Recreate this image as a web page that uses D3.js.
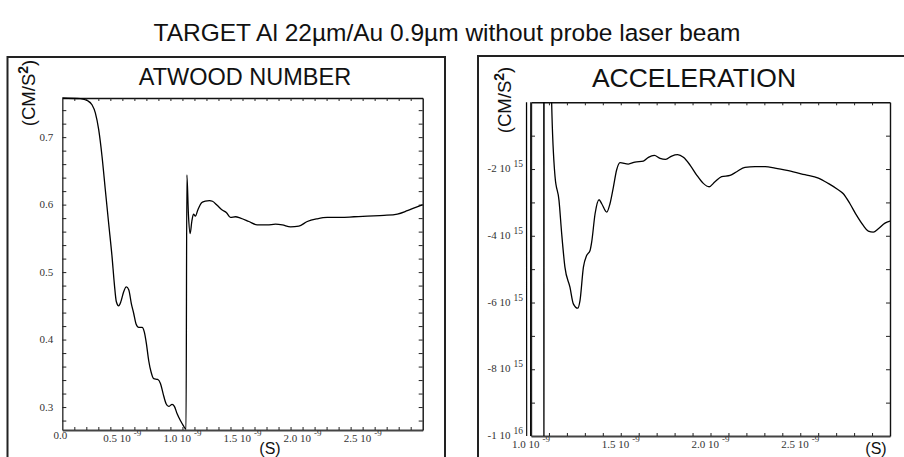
<!DOCTYPE html>
<html>
<head>
<meta charset="utf-8">
<script src="https://cdn.jsdelivr.net/npm/d3@7"></script>
<style>
body { margin: 0; background: #fff; }
svg { display: block; }
.tick-label { font-family: "Liberation Serif", serif; font-size: 11px; fill: #333; }
.big-label { font-family: "Liberation Sans", Arial, sans-serif; fill: #111; }
</style>
</head>
<body>
<div class="chart"></div>
<script>
// time in ns
var atwoodTime = [0, 0.15, 0.211, 0.247, 0.275, 0.303, 0.331, 0.358, 0.386, 0.414,
	0.433, 0.45, 0.469, 0.489, 0.511, 0.533, 0.553, 0.575, 0.594, 0.614,
	0.636, 0.664, 0.683, 0.7, 0.719, 0.739, 0.761, 0.794, 0.817, 0.839,
	0.864, 0.886, 0.914, 0.933, 0.956, 0.983, 1.006, 1.030, 1.037, 1.050,
	1.064, 1.078, 1.092, 1.108, 1.128, 1.162, 1.190, 1.225, 1.250, 1.289,
	1.331, 1.367, 1.4, 1.442, 1.483, 1.553, 1.622, 1.706, 1.775, 1.831,
	1.9, 1.969, 2.039, 2.122, 2.206, 2.317, 2.428, 2.539, 2.678, 2.789,
	2.872, 2.942, 3.0];
var atwoodValue = [0.758, 0.757, 0.754, 0.748, 0.736, 0.711, 0.671, 0.622, 0.572, 0.523,
	0.483, 0.456, 0.45, 0.457, 0.471, 0.478, 0.474, 0.453, 0.439, 0.423,
	0.418, 0.418, 0.411, 0.394, 0.369, 0.352, 0.342, 0.341, 0.335, 0.32,
	0.305, 0.301, 0.304, 0.301, 0.29, 0.28, 0.273, 0.267, 0.644, 0.585,
	0.557, 0.575, 0.586, 0.583, 0.592, 0.603, 0.605, 0.606, 0.605, 0.599,
	0.592, 0.588, 0.581, 0.582, 0.58, 0.575, 0.57, 0.57, 0.571, 0.57,
	0.567, 0.568, 0.575, 0.579, 0.581, 0.581, 0.582, 0.583, 0.584, 0.586,
	0.591, 0.596, 0.6];

// acceleration in 10^15 cm/s^2
var accelTime = [0.975, 0.976, 0.998, 0.999, 1.071, 1.072, 1.073, 1.110, 1.115,
	1.134, 1.156, 1.171, 1.189, 1.217, 1.236, 1.260,
	1.273, 1.292, 1.310, 1.329, 1.338, 1.357, 1.379, 1.394, 1.422, 1.440,
	1.459, 1.477, 1.496, 1.542, 1.579, 1.626, 1.654, 1.687, 1.719, 1.750,
	1.784, 1.817, 1.849, 1.886, 1.923, 1.960, 1.992, 2.025, 2.062, 2.109,
	2.146, 2.192, 2.248, 2.304, 2.359, 2.434, 2.526, 2.601, 2.656, 2.703,
	2.740, 2.777, 2.814, 2.851, 2.879, 2.907, 2.935, 2.972, 3.000];
var accelValue = [3, -14, -14, 3, 3, -14, 3, 1.5, 0,
	-2.23, -2.94, -3.94, -4.94, -5.54, -6.04, -6.17,
	-5.94, -4.94, -4.59, -4.44, -4.19, -3.34, -2.92, -3.04, -3.29, -3.04,
	-2.54, -2.03, -1.81, -1.85, -1.79, -1.76, -1.65, -1.59, -1.68, -1.71,
	-1.61, -1.57, -1.65, -1.88, -2.18, -2.43, -2.53, -2.38, -2.23, -2.19,
	-2.08, -1.95, -1.93, -1.93, -1.97, -2.05, -2.17, -2.27, -2.43, -2.59,
	-2.74, -3.04, -3.39, -3.69, -3.86, -3.89, -3.79, -3.62, -3.56];

var atwoodXTicks = [0.5, 1.0, 1.5, 2.0, 2.5];
var atwoodYTicks = [0.3, 0.4, 0.5, 0.6, 0.7];
var accelXTicks = [1.0, 1.5, 2.0, 2.5];
var accelYTicks = [-2, -4, -6, -8, -10];
var accelYLabels = [["-2 10", "15"], ["-4 10", "15"], ["-6 10", "15"], ["-8 10", "15"], ["-1 10", "16"]];

var svg = d3.select(".chart").append("svg")
	.attr("width", 904)
	.attr("height", 457);

svg.append("text")
	.attr("class", "big-label")
	.attr("x", 447)
	.attr("y", 41)
	.attr("text-anchor", "middle")
	.style("font-size", "24.5px")
	.text("TARGET Al 22\u00b5m/Au 0.9\u00b5m without probe laser beam");

// panel frames
svg.append("rect").attr("x", 7.5).attr("y", 57).attr("width", 437.5).attr("height", 420)
	.attr("fill", "none").attr("stroke", "#222").attr("stroke-width", 2);
svg.append("rect").attr("x", 478).attr("y", 56).attr("width", 440).attr("height", 420)
	.attr("fill", "none").attr("stroke", "#222").attr("stroke-width", 2);

function drawBox(g, x, y, xMinor, yMinor) {
	var w = x.range()[1] - x.range()[0];
	var h = y.range()[0] - y.range()[1];
	var bottom = g.append("g").attr("transform", "translate(0," + h + ")")
		.call(d3.axisBottom(x).tickValues(xMinor).tickSize(-3).tickSizeOuter(0).tickFormat(""));
	var top = g.append("g")
		.call(d3.axisTop(x).tickValues(xMinor).tickSize(-3).tickSizeOuter(0).tickFormat(""));
	var left = g.append("g")
		.call(d3.axisLeft(y).tickValues(yMinor).tickSize(-4).tickSizeOuter(0).tickFormat(""));
	var right = g.append("g").attr("transform", "translate(" + w + ",0)")
		.call(d3.axisRight(y).tickValues(yMinor).tickSize(-4).tickSizeOuter(0).tickFormat(""));
	g.selectAll(".tick line").attr("stroke", "#222");
	bottom.select(".domain").attr("stroke", "#444").attr("stroke-width", 2.2);
	left.select(".domain").attr("stroke", "#333").attr("stroke-width", 1.4);
	top.select(".domain").attr("stroke", "#111").attr("stroke-width", 1.4);
	right.select(".domain").attr("stroke", "#111").attr("stroke-width", 1.4);
}

function xLabels(g, x, ticks, h) {
	var t = g.selectAll(".xl").data(ticks).enter().append("text")
		.attr("class", "tick-label")
		.attr("x", function(d) { return x(d) - 19; })
		.attr("y", h + 12);
	t.append("tspan").text(function(d) { return d.toFixed(1) + " 10"; });
	t.append("tspan").attr("dx", 3).attr("dy", -6).style("font-size", "9px").text("-9");
}

function rotatedUnit(g, x, y) {
	var t = g.append("text")
		.attr("class", "big-label")
		.attr("transform", "translate(" + x + "," + y + ") rotate(-90)")
		.attr("text-anchor", "middle")
		.style("font-size", "18.5px");
	t.append("tspan").text("(CM/S");
	t.append("tspan").attr("dy", -7).style("font-size", "14px").style("font-weight", "bold").text("2");
	t.append("tspan").attr("dy", 7).text(")");
}

// ATWOOD NUMBER
var aW = 360.4, aH = 332;
var ga = svg.append("g").attr("transform", "translate(62.3,98)");
var xa = d3.scaleLinear().domain([0, 3]).range([0, aW]);
var ya = d3.scaleLinear().domain([0.266, 0.758]).range([aH, 0]);

drawBox(ga, xa, ya, d3.range(1, 30).map(function(i) { return i / 10; }),
	d3.range(14, 38).map(function(i) { return i / 50; }));

ga.append("path")
	.datum(d3.zip(atwoodTime, atwoodValue))
	.attr("fill", "none")
	.attr("stroke", "#000")
	.attr("stroke-width", 1.3)
	.attr("d", d3.line()
		.x(function(d) { return xa(d[0]); })
		.y(function(d) { return ya(d[1]); })
		.curve(d3.curveMonotoneX));

ga.selectAll(".yl").data(atwoodYTicks).enter().append("text")
	.attr("class", "tick-label")
	.attr("x", -9)
	.attr("y", function(d) { return ya(d); })
	.attr("dy", "0.32em")
	.attr("text-anchor", "end")
	.text(function(d) { return d.toFixed(1); });

ga.append("text").attr("class", "tick-label")
	.attr("x", xa(0) - 2).attr("y", aH + 9).attr("text-anchor", "middle").text("0.0");
xLabels(ga, xa, atwoodXTicks, aH);

svg.append("text").attr("class", "big-label")
	.attr("x", 245).attr("y", 85).attr("text-anchor", "middle")
	.style("font-size", "23.5px").text("ATWOOD NUMBER");
svg.append("text").attr("class", "big-label")
	.attr("x", 270).attr("y", 454).attr("text-anchor", "middle")
	.style("font-size", "16px").text("(S)");
rotatedUnit(svg, 35, 93);

// ACCELERATION
var cW = 359, cH = 333.7;
var gc = svg.append("g").attr("transform", "translate(531,102.3)");
var xc = d3.scaleLinear().domain([1, 3]).range([0, cW]);
var yc = d3.scaleLinear().domain([-10, 0]).range([cH, 0]);

gc.append("clipPath").attr("id", "accel-clip")
	.append("rect").attr("x", -12).attr("y", 0).attr("width", cW + 12).attr("height", cH);

drawBox(gc, xc, yc, d3.range(11, 30).map(function(i) { return i / 10; }), d3.range(-9, 0));

gc.append("path")
	.datum(d3.zip(accelTime, accelValue))
	.attr("clip-path", "url(#accel-clip)")
	.attr("fill", "none")
	.attr("stroke", "#000")
	.attr("stroke-width", 1.3)
	.attr("d", d3.line()
		.x(function(d) { return xc(d[0]); })
		.y(function(d) { return yc(d[1]); })
		.curve(d3.curveMonotoneX));

var yl = gc.selectAll(".yl").data(accelYTicks).enter().append("text")
	.attr("class", "tick-label")
	.attr("x", -8)
	.attr("y", function(d) { return yc(d) + 3; })
	.attr("text-anchor", "end");
yl.append("tspan").text(function(d, i) { return accelYLabels[i][0]; });
yl.append("tspan").attr("dx", 3).attr("dy", -5).style("font-size", "9.5px")
	.text(function(d, i) { return accelYLabels[i][1]; });

xLabels(gc, xc, accelXTicks, cH);

svg.append("text").attr("class", "big-label")
	.attr("x", 694).attr("y", 86.5).attr("text-anchor", "middle")
	.style("font-size", "26.5px").text("ACCELERATION");
svg.append("text").attr("class", "big-label")
	.attr("x", 876).attr("y", 454).attr("text-anchor", "middle")
	.style("font-size", "16px").text("(S)");
rotatedUnit(svg, 511, 100);
</script>
</body>
</html>
